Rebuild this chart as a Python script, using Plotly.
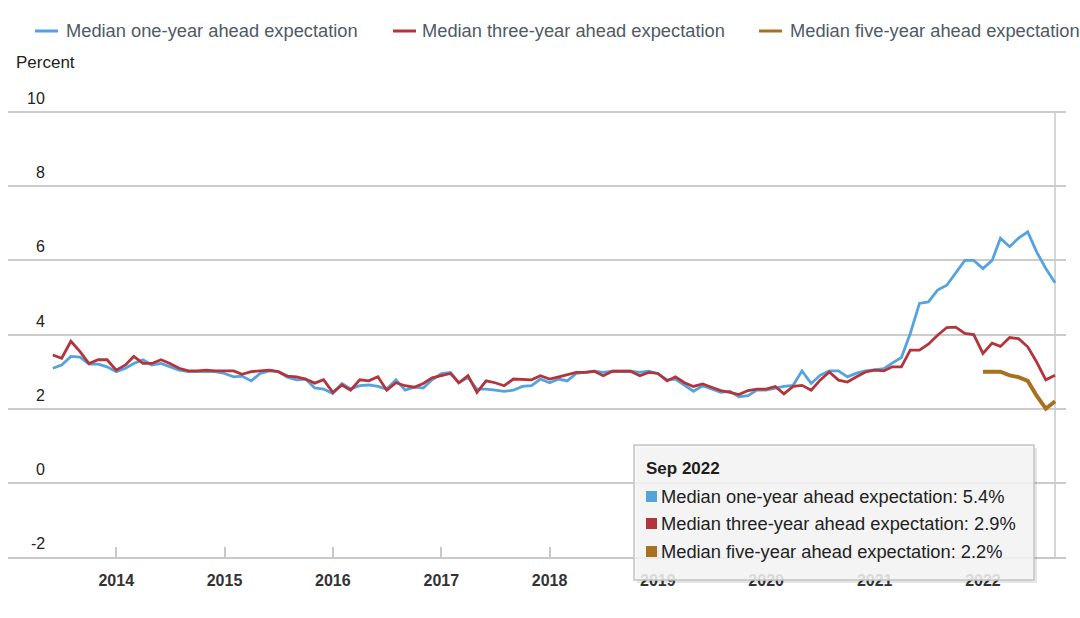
import plotly.graph_objects as go
import pandas as pd

# ---------------- data ----------------
series_start = "2013-06-01"
series_end = "2022-09-01"
five_start = "2022-01-01"

one_year = [3.09, 3.18, 3.41, 3.39, 3.20, 3.20, 3.13, 3.00, 3.09, 3.22,
            3.32, 3.18, 3.22, 3.13, 3.04, 3.00, 3.00, 3.02, 3.00, 2.95,
            2.86, 2.88, 2.75, 2.95, 3.02, 3.00, 2.85, 2.78, 2.80, 2.56,
            2.53, 2.41, 2.68, 2.53, 2.62, 2.64, 2.60, 2.53, 2.78, 2.50,
            2.58, 2.56, 2.78, 2.95, 2.98, 2.70, 2.84, 2.53, 2.53, 2.50,
            2.47, 2.50, 2.60, 2.62, 2.80, 2.70, 2.80, 2.75, 2.95, 2.98,
            3.01, 2.98, 3.01, 3.01, 3.01, 2.98, 3.01, 2.95, 2.78, 2.80,
            2.62, 2.47, 2.62, 2.53, 2.44, 2.47, 2.32, 2.35, 2.50, 2.50,
            2.56, 2.60, 2.63, 3.02, 2.68, 2.90, 3.02, 3.02, 2.86, 2.96,
            3.02, 3.05, 3.08, 3.23, 3.38, 4.03, 4.84, 4.88, 5.20, 5.33,
            5.65, 6.00, 6.00, 5.78, 6.00, 6.60, 6.37, 6.60, 6.77, 6.23,
            5.78, 5.40]

three_year = [3.45, 3.36, 3.82, 3.54, 3.22, 3.32, 3.32, 3.04, 3.18, 3.41,
              3.22, 3.22, 3.32, 3.22, 3.09, 3.02, 3.02, 3.04, 3.02, 3.02,
              3.02, 2.93, 3.00, 3.02, 3.04, 3.00, 2.88, 2.86, 2.80, 2.69,
              2.78, 2.44, 2.64, 2.50, 2.78, 2.75, 2.86, 2.50, 2.70, 2.62,
              2.58, 2.68, 2.83, 2.89, 2.95, 2.70, 2.89, 2.44, 2.75, 2.70,
              2.62, 2.80, 2.80, 2.78, 2.89, 2.80, 2.86, 2.92, 2.98, 2.98,
              3.01, 2.89, 3.01, 3.01, 3.01, 2.89, 2.98, 2.95, 2.75, 2.86,
              2.70, 2.60, 2.67, 2.58, 2.49, 2.44, 2.38, 2.49, 2.53, 2.53,
              2.60, 2.40, 2.60, 2.63, 2.50, 2.77, 2.99, 2.77, 2.72, 2.86,
              2.99, 3.04, 3.02, 3.13, 3.13, 3.58, 3.58, 3.74, 3.98, 4.19,
              4.20, 4.03, 4.00, 3.49, 3.77, 3.68, 3.92, 3.89, 3.67, 3.26,
              2.78, 2.90]

five_year = [3.0, 3.0, 3.0, 2.9, 2.85, 2.75, 2.35, 2.0, 2.2]

series_names = ["Median one-year ahead expectation",
                "Median three-year ahead expectation",
                "Median five-year ahead expectation"]
year_ticks = ["2014", "2015", "2016", "2017", "2018", "2019", "2020", "2021", "2022"]
y_ticks = [-2, 0, 2, 4, 6, 8, 10]

months = pd.date_range(series_start, series_end, freq="MS")
months5 = pd.date_range(five_start, series_end, freq="MS")

# ---------------- style ----------------
colors = ["#55a3de", "#b3353b", "#a8711f"]
widths = [2.8, 2.8, 4]
FONT = "Liberation Sans, Arial, sans-serif"
W, H = 1080, 618
L, R, T, B = 8, 14, 111, 61
PW, PH = W - L - R, H - T - B
Y_RANGE = [-2, 10.03]


def px(x):
    return (x - L) / PW


def py(y):
    return (T + PH - y) / PH


fig = go.Figure()
for xs, ys, c, w, n in [(months, one_year, colors[0], widths[0], series_names[0]),
                        (months, three_year, colors[1], widths[1], series_names[1]),
                        (months5, five_year, colors[2], widths[2], series_names[2])]:
    fig.add_trace(go.Scatter(x=xs, y=ys, mode="lines", name=n,
                             line=dict(color=c, width=w), hoverinfo="skip"))

shapes = []
annotations = []

# crosshair at last point
shapes.append(dict(type="line", xref="x", yref="y", x0=months[-1], x1=months[-1],
                   y0=-2, y1=10, line=dict(color="#c8c8c8", width=1.5), layer="below"))

# y tick labels (above the gridline, left)
for v in y_ticks:
    annotations.append(dict(xref="paper", yref="y", x=px(47), y=v, xanchor="right",
                            yanchor="bottom", yshift=3, showarrow=False, text=str(v),
                            font=dict(family=FONT, size=16, color="#222")))

# axis title
annotations.append(dict(xref="paper", yref="paper", x=px(14), y=py(62), xanchor="left",
                        yanchor="middle", showarrow=False, text="Percent",
                        font=dict(family=FONT, size=17, color="#222")))

# legend (top)
leg_line_x = [35, 393, 759]
leg_text_x = [64, 420, 788]
for i in range(3):
    shapes.append(dict(type="line", xref="paper", yref="paper",
                       x0=px(leg_line_x[i]), x1=px(leg_line_x[i] + 23),
                       y0=py(31), y1=py(31), line=dict(color=colors[i], width=3)))
    annotations.append(dict(xref="paper", yref="paper", x=px(leg_text_x[i]), y=py(30),
                            xanchor="left", yanchor="middle", showarrow=False,
                            text=series_names[i],
                            font=dict(family=FONT, size=18.3, color="#4f5a66")))

# tooltip box
bx0, bx1, by0, by1 = 634, 1034, 445, 580
shapes.append(dict(type="rect", xref="paper", yref="paper",
                   x0=px(bx0 + 3), x1=px(bx1 + 3), y0=py(by1 + 3), y1=py(by0 + 3),
                   fillcolor="rgba(0,0,0,0.10)", line=dict(width=0), layer="above"))
shapes.append(dict(type="rect", xref="paper", yref="paper",
                   x0=px(bx0), x1=px(bx1), y0=py(by1), y1=py(by0),
                   fillcolor="rgba(246,246,246,0.86)", line=dict(color="#c4c4c4", width=1.5),
                   layer="above"))
annotations.append(dict(xref="paper", yref="paper", x=px(644), y=py(468), xanchor="left",
                        yanchor="middle", showarrow=False,
                        text="<b>" + months[-1].strftime("%b %Y") + "</b>",
                        font=dict(family=FONT, size=17, color="#1e1e1e")))
last_vals = [one_year[-1], three_year[-1], five_year[-1]]
row_y = [496, 523, 551]
for i in range(3):
    shapes.append(dict(type="rect", xref="paper", yref="paper",
                       x0=px(646), x1=px(657), y0=py(row_y[i] + 6), y1=py(row_y[i] - 5),
                       fillcolor=colors[i], line=dict(width=0), layer="above"))
    annotations.append(dict(xref="paper", yref="paper", x=px(659), y=py(row_y[i]),
                            xanchor="left", yanchor="middle", showarrow=False,
                            text=f"{series_names[i]}: {last_vals[i]:.1f}%",
                            font=dict(family=FONT, size=18.3, color="#222")))

fig.update_layout(
    width=W, height=H,
    margin=dict(l=L, r=R, t=T, b=B),
    paper_bgcolor="white", plot_bgcolor="white",
    showlegend=False, hovermode=False,
    font=dict(family=FONT),
    shapes=shapes, annotations=annotations,
    xaxis=dict(
        type="date",
        range=["2013-01-01", "2022-10-08"],
        tickvals=[f"{y}-01-01" for y in year_ticks],
        ticktext=year_ticks,
        ticks="inside", ticklen=10, tickcolor="#c8c8c8", tickwidth=1.5,
        showgrid=False, showline=True, linecolor="#c8c8c8", linewidth=2,
        tickfont=dict(family=FONT, size=16, color="#333", weight="bold"),
        ticklabelstandoff=8,
        zeroline=False,
    ),
    yaxis=dict(
        range=Y_RANGE, tickvals=y_ticks, showticklabels=False,
        showgrid=True, gridcolor="#cccccc", gridwidth=1.5,
        zeroline=False, showline=False,
    ),
)

fig.write_html("out.html", config={"displayModeBar": False},
               post_script="document.body.style.margin='0px';")
